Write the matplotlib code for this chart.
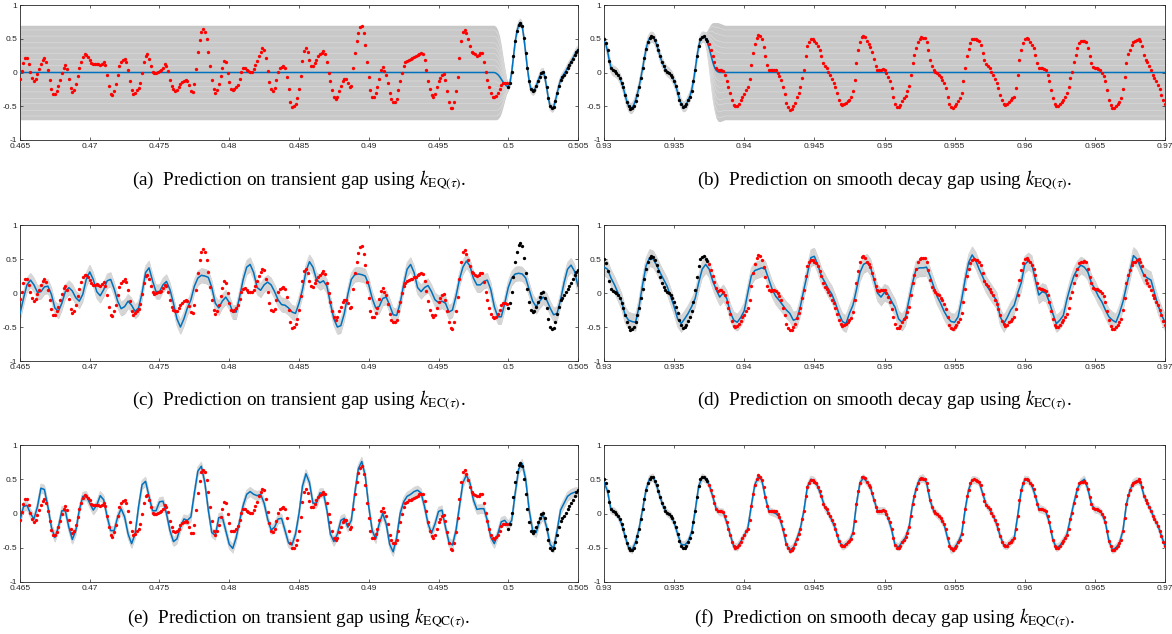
import numpy as np
import matplotlib
matplotlib.use("Agg")
import matplotlib.pyplot as plt

plt.rcParams['mathtext.fontset'] = 'stix'

# sample grid (8 kHz audio), 321 samples per window
fs = 8000.0
t_tr = 0.465 + np.arange(321) / fs
t_sd = 0.93 + np.arange(321) / fs
t_tr2 = t_tr[::2]
t_sd2 = t_sd[::2]
obs_tr_start = 280   # transient window: observed from 0.5 on
obs_sd_end = 60      # decay window: observed up to ~0.9375

# true signal, transient window
sig_tr = [
    -0.09, 0.02, 0.14, 0.21, 0.21, 0.12, 0.01, -0.08, -0.12, -0.09,
    -0.02, 0.05, 0.12, 0.18, 0.21, 0.16, 0.04, -0.11, -0.24, -0.32,
    -0.32, -0.27, -0.2, -0.11, -0.01, 0.07, 0.11, 0.05, -0.09, -0.23,
    -0.29, -0.26, -0.17, -0.05, 0.06, 0.16, 0.23, 0.27, 0.26, 0.23,
    0.19, 0.14, 0.12, 0.12, 0.13, 0.12, 0.11, 0.13, 0.16, 0.11,
    -0.03, -0.2, -0.32, -0.34, -0.27, -0.17, -0.03, 0.09, 0.15, 0.18,
    0.2, 0.16, 0.04, -0.12, -0.26, -0.32, -0.3, -0.26, -0.23, -0.16,
    -0.01, 0.15, 0.25, 0.27, 0.2, 0.1, 0.01, -0.01, 0.0, 0.01,
    0.02, 0.03, 0.07, 0.12, 0.1, 0.02, -0.11, -0.2, -0.25, -0.27,
    -0.26, -0.22, -0.17, -0.14, -0.12, -0.11, -0.12, -0.19, -0.28, -0.29,
    -0.17, 0.05, 0.3, 0.48, 0.6, 0.64, 0.6, 0.49, 0.31, 0.09,
    -0.11, -0.25, -0.31, -0.26, -0.17, -0.05, 0.07, 0.17, 0.15, 0.0,
    -0.14, -0.25, -0.26, -0.25, -0.22, -0.18, -0.09, 0.01, 0.06, 0.07,
    0.04, 0.02, 0.01, 0.01, 0.05, 0.11, 0.17, 0.25, 0.31, 0.36,
    0.34, 0.21, 0.02, -0.14, -0.25, -0.27, -0.23, -0.11, 0.01, 0.06,
    0.08, 0.09, 0.06, -0.06, -0.25, -0.43, -0.51, -0.5, -0.46, -0.38,
    -0.25, -0.05, 0.17, 0.32, 0.36, 0.3, 0.18, 0.1, 0.09, 0.14,
    0.19, 0.24, 0.27, 0.29, 0.32, 0.28, 0.15, 0.0, -0.13, -0.26,
    -0.36, -0.39, -0.36, -0.27, -0.2, -0.13, -0.1, -0.1, -0.15, -0.22,
    -0.2, 0.06, 0.29, 0.46, 0.59, 0.67, 0.69, 0.58, 0.41, 0.16,
    -0.07, -0.26, -0.36, -0.36, -0.3, -0.22, -0.09, 0.03, 0.08, 0.02,
    -0.03, -0.16, -0.31, -0.39, -0.43, -0.43, -0.39, -0.26, -0.13, 0.0,
    0.1, 0.15, 0.17, 0.19, 0.2, 0.21, 0.23, 0.24, 0.26, 0.28,
    0.29, 0.28, 0.18, 0.03, -0.12, -0.25, -0.33, -0.36, -0.32, -0.22,
    -0.13, -0.08, -0.03, -0.02, -0.11, -0.27, -0.43, -0.52, -0.53, -0.43,
    -0.27, -0.06, 0.21, 0.46, 0.6, 0.63, 0.58, 0.49, 0.39, 0.31,
    0.29, 0.27, 0.25, 0.26, 0.29, 0.29, 0.16, 0.01, -0.11, -0.22,
    -0.31, -0.36, -0.37, -0.35, -0.31, -0.25, -0.18, -0.15, -0.15, -0.16,
    -0.22, -0.15, 0.01, 0.24, 0.46, 0.61, 0.71, 0.74, 0.69, 0.51,
    0.29, 0.06, -0.13, -0.25, -0.28, -0.26, -0.2, -0.13, -0.06, 0.0,
    0.01, -0.07, -0.22, -0.38, -0.5, -0.53, -0.51, -0.42, -0.31, -0.2,
    -0.11, -0.07, -0.03, 0.01, 0.06, 0.11, 0.15, 0.2, 0.26, 0.31,
    0.34,
]

# true signal, smooth decay window
sig_sd = [
    0.5, 0.44, 0.33, 0.17, 0.06, 0.03, 0.02, 0.0, -0.03, -0.08,
    -0.15, -0.22, -0.33, -0.43, -0.5, -0.54, -0.53, -0.5, -0.42, -0.33,
    -0.22, -0.08, 0.06, 0.21, 0.35, 0.45, 0.51, 0.54, 0.53, 0.48,
    0.41, 0.33, 0.24, 0.15, 0.09, 0.04, 0.01, 0.0, -0.03, -0.07,
    -0.13, -0.2, -0.3, -0.4, -0.47, -0.51, -0.5, -0.47, -0.41, -0.36,
    -0.27, -0.13, 0.04, 0.24, 0.4, 0.5, 0.53, 0.54, 0.5, 0.47,
    0.42, 0.34, 0.25, 0.16, 0.07, 0.03, 0.04, 0.04, 0.02, -0.03,
    -0.13, -0.22, -0.31, -0.41, -0.48, -0.5, -0.49, -0.46, -0.41, -0.36,
    -0.32, -0.26, -0.22, -0.1, 0.11, 0.29, 0.42, 0.51, 0.56, 0.54,
    0.49, 0.38, 0.24, 0.11, 0.04, 0.03, 0.04, 0.04, 0.03, 0.0,
    -0.05, -0.11, -0.22, -0.32, -0.45, -0.51, -0.55, -0.54, -0.5, -0.45,
    -0.37, -0.3, -0.22, -0.08, 0.04, 0.25, 0.39, 0.45, 0.49, 0.49,
    0.46, 0.44, 0.39, 0.33, 0.25, 0.14, 0.09, 0.06, 0.01, -0.03,
    -0.1, -0.15, -0.22, -0.31, -0.4, -0.46, -0.48, -0.47, -0.45, -0.42,
    -0.4, -0.37, -0.28, -0.11, 0.14, 0.33, 0.45, 0.53, 0.54, 0.52,
    0.46, 0.42, 0.38, 0.3, 0.2, 0.1, 0.04, 0.03, 0.04, 0.05,
    0.04, 0.0, -0.06, -0.13, -0.23, -0.36, -0.46, -0.51, -0.51, -0.48,
    -0.42, -0.38, -0.35, -0.28, -0.2, -0.03, 0.14, 0.26, 0.36, 0.45,
    0.5, 0.52, 0.51, 0.51, 0.45, 0.34, 0.19, 0.09, 0.04, 0.01,
    -0.01, -0.03, -0.07, -0.11, -0.16, -0.23, -0.36, -0.47, -0.51, -0.53,
    -0.5, -0.47, -0.42, -0.38, -0.3, -0.13, 0.06, 0.25, 0.35, 0.44,
    0.49, 0.5, 0.49, 0.48, 0.46, 0.41, 0.29, 0.18, 0.13, 0.1,
    0.06, 0.01, -0.03, -0.1, -0.16, -0.23, -0.33, -0.41, -0.46, -0.48,
    -0.47, -0.43, -0.41, -0.38, -0.36, -0.23, -0.03, 0.19, 0.34, 0.44,
    0.5, 0.51, 0.49, 0.45, 0.41, 0.36, 0.26, 0.14, 0.07, 0.06,
    0.06, 0.05, 0.03, -0.03, -0.13, -0.26, -0.38, -0.47, -0.5, -0.5,
    -0.47, -0.43, -0.4, -0.36, -0.31, -0.22, -0.08, 0.01, 0.15, 0.26,
    0.36, 0.44, 0.46, 0.46, 0.47, 0.45, 0.36, 0.24, 0.14, 0.08,
    0.06, 0.06, 0.05, 0.03, 0.0, -0.05, -0.13, -0.26, -0.4, -0.48,
    -0.53, -0.53, -0.5, -0.47, -0.43, -0.38, -0.25, -0.07, 0.14, 0.27,
    0.34, 0.41, 0.45, 0.46, 0.48, 0.5, 0.46, 0.39, 0.26, 0.19,
    0.15, 0.1, 0.04, -0.03, -0.08, -0.13, -0.18, -0.25, -0.33, -0.41,
    -0.47,
]

# (a) EQ kernel, transient gap: flat prior mean inside the gap
mean_a = [0.0] * 272 + [
    0.0, -0.01, -0.03, -0.06, -0.1, -0.14, -0.17, -0.2,
    -0.21, -0.15, 0.01, 0.24, 0.46, 0.61, 0.71, 0.74, 0.69, 0.51,
    0.29, 0.06, -0.13, -0.25, -0.28, -0.26, -0.2, -0.13, -0.06, 0.0,
    0.01, -0.07, -0.22, -0.38, -0.5, -0.53, -0.51, -0.42, -0.31, -0.2,
    -0.11, -0.06, -0.02, 0.02, 0.07, 0.12, 0.16, 0.21, 0.26, 0.31, 0.34,
]
std_a = [0.7] * 272 + [0.7, 0.69, 0.66, 0.6, 0.5, 0.37, 0.24, 0.12] + [0.06] * 41

# (b) EQ kernel, smooth decay gap
mean_b = [
    0.47, 0.42, 0.32, 0.18, 0.07, 0.03, 0.02, 0.0, -0.03, -0.08,
    -0.15, -0.23, -0.33, -0.43, -0.5, -0.53, -0.52, -0.48, -0.41, -0.32,
    -0.21, -0.08, 0.06, 0.21, 0.35, 0.45, 0.51, 0.53, 0.52, 0.48,
    0.41, 0.33, 0.24, 0.16, 0.1, 0.05, 0.02, 0.0, -0.03, -0.07,
    -0.13, -0.2, -0.3, -0.39, -0.46, -0.5, -0.5, -0.47, -0.41, -0.35,
    -0.26, -0.13, 0.04, 0.23, 0.39, 0.49, 0.53, 0.53, 0.5,
    0.44, 0.36, 0.26, 0.16, 0.08, 0.03, 0.01,
] + [0.0] * 255
std_b = [0.08] * 58 + [0.1, 0.18, 0.32, 0.46, 0.58, 0.66, 0.71, 0.73, 0.73, 0.72, 0.71] + [0.7] * 252

# (c) EC kernel, transient (every second sample)
mean_c = [
    -0.3, -0.08, 0.12, 0.19, 0.12, 0.01, 0.02, 0.09, 0.1, -0.02,
    -0.22, -0.27, -0.15, 0.02, 0.08, 0.03, -0.07, -0.12, -0.02, 0.2,
    0.31, 0.2, 0.02, -0.04, 0.05, 0.18, 0.2, 0.06, -0.12, -0.23,
    -0.2, -0.12, -0.18, -0.27, -0.22, 0.0, 0.3, 0.37, 0.18, 0.02,
    0.02, 0.12, 0.17, 0.05, -0.15, -0.38, -0.5, -0.38, -0.22, -0.1,
    0.1, 0.22, 0.26, 0.25, 0.23, 0.08, -0.15, -0.22, -0.12, -0.06,
    -0.14, -0.28, -0.28, -0.05, 0.2, 0.38, 0.42, 0.3, 0.08, 0.04,
    0.12, 0.16, 0.12, 0.02, -0.1, -0.17, -0.18, -0.22, -0.28, -0.3,
    -0.15, 0.05, 0.32, 0.46, 0.38, 0.2, 0.15, 0.18, 0.1, -0.15,
    -0.38, -0.5, -0.48, -0.3, -0.02, 0.2, 0.27, 0.28, 0.27, 0.25,
    0.12, -0.08, -0.22, -0.2, -0.08, -0.06, -0.18, -0.32, -0.33, -0.15,
    0.12, 0.35, 0.42, 0.3, 0.08, 0.02, 0.08, 0.11, 0.02, -0.1,
    -0.14, -0.12, -0.15, -0.28, -0.25, -0.05, 0.2, 0.38, 0.47, 0.4,
    0.22, 0.12, 0.12, 0.17, 0.19, 0.05, -0.2, -0.35, -0.35, -0.15,
    0.08, 0.22, 0.28, 0.29, 0.28, 0.22, 0.05, -0.12, -0.2, -0.12,
    -0.06, -0.1, -0.22, -0.32, -0.3, -0.1, 0.15, 0.35, 0.41, 0.32,
    0.1,
]
std_c = 0.11

# (d) EC kernel, smooth decay (every second sample)
mean_d = [
    0.38, 0.35, 0.22, 0.12, 0.0, -0.12, -0.32, -0.4, -0.42, -0.43,
    -0.2, 0.12, 0.4, 0.52, 0.5, 0.41, 0.3, 0.2, 0.1, -0.05,
    -0.2, -0.38, -0.45, -0.38, -0.3, -0.2, -0.08, 0.15, 0.35, 0.42,
    0.35, 0.18, 0.05, -0.06, 0.0, -0.08, -0.28, -0.4, -0.43, -0.36,
    -0.26, 0.0, 0.25, 0.33, 0.35, 0.37, 0.35, 0.2, 0.05, -0.05,
    -0.11, -0.18, -0.25, -0.3, -0.4, -0.38, -0.2, 0.05, 0.28, 0.52,
    0.54, 0.41, 0.25, 0.16, 0.06, -0.02, -0.15, -0.3, -0.42, -0.45,
    -0.3, -0.18, 0.05, 0.3, 0.42, 0.45, 0.38, 0.2, 0.0, -0.06,
    0.01, -0.02, -0.12, -0.21, -0.38, -0.43, -0.35, -0.1, 0.15, 0.35,
    0.37, 0.37, 0.38, 0.25, 0.1, -0.05, -0.15, -0.27, -0.36, -0.42,
    -0.43, -0.35, -0.1, 0.2, 0.45, 0.56, 0.48, 0.35, 0.24, 0.12,
    0.04, -0.04, -0.11, -0.35, -0.45, -0.36, -0.25, -0.18, 0.0, 0.15,
    0.42, 0.47, 0.43, 0.2, -0.03, 0.02, 0.0, -0.13, -0.3, -0.45,
    -0.4, -0.33, -0.1, 0.09, 0.25, 0.35, 0.41, 0.38, 0.31, 0.15,
    0.06, -0.05, -0.13, -0.25, -0.35, -0.4, -0.43, -0.3, -0.13, 0.1,
    0.31, 0.55, 0.5, 0.38, 0.26, 0.22, 0.19, 0.0, -0.18, -0.32,
    -0.43,
]
std_d = 0.13

# (e) EQC kernel, transient (every second sample)
mean_e = [
    -0.1, 0.1, 0.12, 0.0, -0.08, 0.1, 0.37, 0.35, 0.1, -0.2,
    -0.35, -0.2, 0.04, 0.04, -0.2, -0.38, -0.25, 0.05, 0.25, 0.26,
    0.15, 0.05, 0.12, 0.26, 0.2, -0.05, -0.25, -0.25, -0.05, 0.07,
    -0.05, -0.3, -0.44, -0.3, 0.1, 0.42, 0.47, 0.25, 0.04, 0.04,
    0.17, 0.18, 0.0, -0.25, -0.41, -0.37, -0.2, -0.08, -0.1, -0.05,
    0.3, 0.62, 0.69, 0.45, 0.05, -0.28, -0.32, -0.06, -0.05, -0.25,
    -0.45, -0.51, -0.35, -0.1, 0.12, 0.28, 0.32, 0.28, 0.26, 0.28,
    0.15, -0.08, -0.24, -0.2, -0.08, -0.07, -0.25, -0.43, -0.46, -0.3,
    0.0, 0.4, 0.58, 0.45, 0.15, 0.15, 0.3, 0.3, 0.05, -0.3,
    -0.41, -0.3, -0.1, -0.07, -0.2, -0.1, 0.3, 0.65, 0.76, 0.55,
    0.1, -0.25, -0.37, -0.15, 0.0, -0.15, -0.45, -0.56, -0.35, 0.0,
    0.17, 0.25, 0.28, 0.32, 0.34, 0.3, 0.1, -0.15, -0.29, -0.15,
    0.03, 0.05, -0.2, -0.42, -0.46, -0.25, 0.1, 0.45, 0.56, 0.45,
    0.2, 0.06, 0.07, 0.07, -0.1, -0.35, -0.44, -0.3, -0.12, -0.1,
    -0.17, -0.1, 0.3, 0.65, 0.73, 0.5, 0.05, -0.25, -0.28, -0.1,
    -0.02, -0.2, -0.45, -0.51, -0.25, 0.05, 0.15, 0.25, 0.29, 0.31,
    0.32,
]
std_e = 0.07

# (f) EQC kernel, smooth decay (every second sample)
mean_f = [
    0.45, 0.33, 0.05, 0.03, -0.03, -0.15, -0.33, -0.5, -0.53, -0.42,
    -0.22, 0.06, 0.35, 0.51, 0.53, 0.41, 0.24, 0.09, 0.01, -0.03,
    -0.13, -0.3, -0.45, -0.46, -0.41, -0.27, 0.04, 0.4, 0.53, 0.5,
    0.42, 0.25, 0.07, 0.02, 0.02, -0.13, -0.31, -0.48, -0.49, -0.41,
    -0.32, -0.22, 0.11, 0.42, 0.53, 0.49, 0.24, 0.04, 0.02, 0.0,
    -0.05, -0.22, -0.45, -0.53, -0.5, -0.37, -0.22, 0.04, 0.39, 0.5,
    0.48, 0.39, 0.25, 0.09, 0.01, -0.1, -0.22, -0.4, -0.48, -0.45,
    -0.4, -0.28, 0.14, 0.45, 0.52, 0.46, 0.38, 0.2, 0.04, 0.04,
    0.04, -0.06, -0.23, -0.46, -0.49, -0.42, -0.35, -0.2, 0.14, 0.36,
    0.5, 0.52, 0.45, 0.19, 0.04, -0.01, -0.07, -0.16, -0.36, -0.53,
    -0.5, -0.42, -0.3, 0.06, 0.35, 0.49, 0.49, 0.46, 0.29, 0.13,
    0.06, -0.03, -0.16, -0.33, -0.46, -0.47, -0.41, -0.36, -0.03, 0.34,
    0.5, 0.49, 0.41, 0.26, 0.07, 0.06, 0.03, -0.13, -0.38, -0.5,
    -0.47, -0.4, -0.31, -0.08, 0.15, 0.36, 0.46, 0.5, 0.36, 0.14,
    0.06, 0.05, 0.0, -0.13, -0.4, -0.53, -0.5, -0.43, -0.25, 0.14,
    0.34, 0.45, 0.48, 0.46, 0.26, 0.15, 0.04, -0.08, -0.18, -0.33,
    -0.47,
]
std_f = 0.055

captions = [
    r"(a)  Prediction on transient gap using $k_{\mathrm{EQ}(\tau)}$.",
    r"(b)  Prediction on smooth decay gap using $k_{\mathrm{EQ}(\tau)}$.",
    r"(c)  Prediction on transient gap using $k_{\mathrm{EC}(\tau)}$.",
    r"(d)  Prediction on smooth decay gap using $k_{\mathrm{EC}(\tau)}$.",
    r"(e)  Prediction on transient gap using $k_{\mathrm{EQC}(\tau)}$.",
    r"(f)  Prediction on smooth decay gap using $k_{\mathrm{EQC}(\tau)}$.",
]
xticks_tr = [0.465, 0.47, 0.475, 0.48, 0.485, 0.49, 0.495, 0.5, 0.505]
xticks_sd = [0.93, 0.935, 0.94, 0.945, 0.95, 0.955, 0.96, 0.965, 0.97]
yticks = [-1, -0.5, 0, 0.5, 1]
ylabels = ["-1", "-0.5", "0", "0.5", "1"]

W, H = 1172, 634
cols = [(20, 578), (604, 1165)]
rows = [(5, 140), (225, 361), (445, 582)]
cap_y = [180, 400, 618]

band_col = "#c8c8c8"
streak_col = "#dadada"
blue = "#0072bd"
ink = "#262626"
streaks = [-0.92, -0.8, -0.66, -0.55, -0.41, -0.3, -0.18, 0.15, 0.27, 0.4, 0.52, 0.63, 0.77, 0.9]

panels = [
    (t_tr, np.array(mean_a), np.array(std_a), sig_tr, t_tr, 'tr'),
    (t_sd, np.array(mean_b), np.array(std_b), sig_sd, t_sd, 'sd'),
    (t_tr2, np.array(mean_c), std_c, sig_tr, t_tr, 'tr'),
    (t_sd2, np.array(mean_d), std_d, sig_sd, t_sd, 'sd'),
    (t_tr2, np.array(mean_e), std_e, sig_tr, t_tr, 'tr'),
    (t_sd2, np.array(mean_f), std_f, sig_sd, t_sd, 'sd'),
]

fig = plt.figure(figsize=(W / 100, H / 100), dpi=100)

for n, (tm, mu, sd, sig, ts, kind) in enumerate(panels):
    r, c = divmod(n, 2)
    x0, x1 = cols[c]
    y0, y1 = rows[r]
    ax = fig.add_axes([x0 / W, 1 - y1 / H, (x1 - x0) / W, (y1 - y0) / H])
    sig = np.array(sig)
    ax.fill_between(tm, mu - sd, mu + sd, color=band_col, lw=0, zorder=1)
    for f in streaks:
        ax.plot(tm, mu + f * sd, color=streak_col, lw=0.5, zorder=2)
    ax.plot(tm, mu, color=blue, lw=1.1, zorder=3)
    if kind == 'tr':
        gap = slice(0, obs_tr_start)
        obs = slice(obs_tr_start, None)
        ax.set_xlim(0.465, 0.505)
        ax.set_xticks(xticks_tr)
        ax.set_xticklabels([f"{v:g}" for v in xticks_tr])
    else:
        gap = slice(obs_sd_end, None)
        obs = slice(0, obs_sd_end)
        ax.set_xlim(0.93, 0.97)
        ax.set_xticks(xticks_sd)
        ax.set_xticklabels([f"{v:g}" for v in xticks_sd])
    ax.plot(ts[gap], sig[gap], 'o', color='red', ms=2.4, mew=0, zorder=4)
    ax.plot(ts[obs], sig[obs], 'o', color='black', ms=2.4, mew=0, zorder=4)
    ax.set_ylim(-1, 1)
    ax.set_yticks(yticks)
    ax.set_yticklabels(ylabels)
    ax.tick_params(direction='in', length=2.5, width=0.5, colors=ink,
                   labelsize=6, top=True, right=True, pad=2)
    for lab in ax.get_xticklabels() + ax.get_yticklabels():
        lab.set_family('Liberation Sans')
    for s in ax.spines.values():
        s.set_color(ink)
        s.set_linewidth(0.6)
    fig.text((x0 + x1) / 2 / W, 1 - cap_y[r] / H, captions[n],
             ha='center', va='center', fontsize=13.8, family='Liberation Serif')

fig.savefig("out.png", dpi=100)
